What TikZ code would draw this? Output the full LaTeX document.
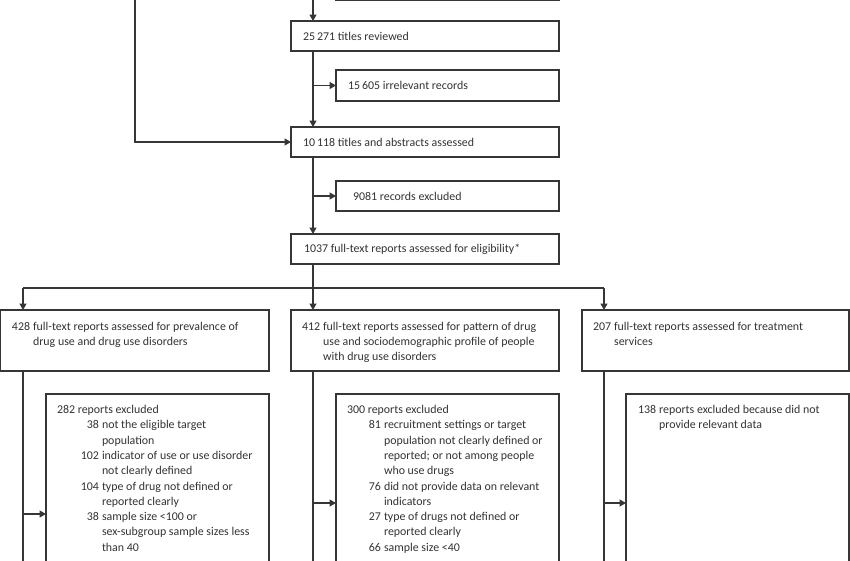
\documentclass[tikz,border=0pt]{standalone}
\usepackage{fontspec}
\setmainfont{Carlito}
\usetikzlibrary{arrows.meta}
\definecolor{ln}{HTML}{363636}
\definecolor{tx}{HTML}{333333}
\newcommand{\nb}[2]{\makebox[#1][r]{#2}\hspace{3pt}}
\tikzset{
  box/.style={draw=ln, line width=1.2pt, inner sep=0pt, outer sep=0pt, anchor=north west},
  txt/.style={text=tx, inner sep=0pt, outer sep=0pt, font=\fontsize{11.9}{15.3}\selectfont},
  conn/.style={draw=ln, line width=1.3pt},
  arr/.style={conn, -{Triangle[length=6.5pt,width=7pt]}},
}
\begin{document}
\begin{tikzpicture}[x=1pt, y=-1pt]
\useasboundingbox (0,0) rectangle (850,560);
\clip (0,0) rectangle (850,560);
\fill[white] (0,0) rectangle (850,560);

% partly visible box above the picture
\draw[ln, line width=1.2pt] (336,-40) rectangle (559,0.3);

% boxes of the main chain
\node[box, minimum width=268pt, minimum height=30pt] (b) at (291,21) {};
\node[box, minimum width=223pt, minimum height=31pt] (c) at (336,70) {};
\node[box, minimum width=268pt, minimum height=30pt] (d) at (291,127) {};
\node[box, minimum width=223pt, minimum height=30pt] (e) at (336,181) {};
\node[box, minimum width=268pt, minimum height=30pt] (f) at (291,234) {};

\node[txt, anchor=west] (bt) at ([xshift=12pt]b.west) {25\,271 titles reviewed};
\node[txt, anchor=west] (ct) at ([xshift=12pt]c.west) {15\,605 irrelevant records};
\node[txt, anchor=west] (dt) at ([xshift=12pt]d.west) {10\,118 titles and abstracts assessed};
\node[txt, anchor=west] (et) at ([xshift=17pt]e.west) {9081 records excluded};
\node[txt, anchor=west] (ft) at ([xshift=13pt]f.west) {1037 full-text reports assessed for eligibility*};

% second level boxes
\node[box, minimum width=269pt, minimum height=61pt] (g1) at (0,310) {};
\node[box, minimum width=268pt, minimum height=61pt] (g2) at (291,310) {};
\node[box, minimum width=267pt, minimum height=61pt] (g3) at (582,310) {};

\node[txt, anchor=base west] (g1t) at ([shift={(12pt,-20pt)}]g1.north west)
  {\begin{tabular}[t]{@{}l@{\hspace{3pt}}l@{}}428 & full-text reports assessed for prevalence of\\ & drug use and drug use disorders\end{tabular}};
\node[txt, anchor=base west] (g2t) at ([shift={(11pt,-20pt)}]g2.north west)
  {\begin{tabular}[t]{@{}l@{\hspace{3pt}}l@{}}412 & full-text reports assessed for pattern of drug\\ & use and sociodemographic profile of people\\ & with drug use disorders\end{tabular}};
\node[txt, anchor=base west] (g3t) at ([shift={(11pt,-20pt)}]g3.north west)
  {\begin{tabular}[t]{@{}l@{\hspace{3pt}}l@{}}207 & full-text reports assessed for treatment\\ & services\end{tabular}};

% exclusion boxes (run past the lower edge)
\node[box, minimum width=223pt, minimum height=220pt] (h1) at (46,394) {};
\node[box, minimum width=223pt, minimum height=220pt] (h2) at (336,394) {};
\node[box, minimum width=223pt, minimum height=220pt] (h3) at (626,394) {};

\node[txt, anchor=base west] (h1t) at ([shift={(11pt,-19.5pt)}]h1.north west)
  {\begin{tabular}[t]{@{}l@{}}
   282 reports excluded\\
   \nb{42pt}{38}not the eligible target\\
   \hspace*{45pt}population\\
   \nb{42pt}{102}indicator of use or use disorder\\
   \hspace*{45pt}not clearly defined\\
   \nb{42pt}{104}type of drug not defined or\\
   \hspace*{45pt}reported clearly\\
   \nb{42pt}{38}sample size <100 or\\
   \hspace*{45pt}sex-subgroup sample sizes less\\
   \hspace*{45pt}than 40
  \end{tabular}};
\node[txt, anchor=base west] (h2t) at ([shift={(11pt,-19.5pt)}]h2.north west)
  {\begin{tabular}[t]{@{}l@{}}
   300 reports excluded\\
   \nb{34pt}{81}recruitment settings or target\\
   \hspace*{37pt}population not clearly defined or\\
   \hspace*{37pt}reported; or not among people\\
   \hspace*{37pt}who use drugs\\
   \nb{34pt}{76}did not provide data on relevant\\
   \hspace*{37pt}indicators\\
   \nb{34pt}{27}type of drugs not defined or\\
   \hspace*{37pt}reported clearly\\
   \nb{34pt}{66}sample size <40
  \end{tabular}};
\node[txt, anchor=base west] (h3t) at ([shift={(12pt,-19.5pt)}]h3.north west)
  {\begin{tabular}[t]{@{}l@{\hspace{3pt}}l@{}}138 & reports excluded because did not\\ & provide relevant data\end{tabular}};

% connectors
\coordinate (top) at (313,-5);
\coordinate (far) at (135,-5);
\coordinate (sl) at (23,288);
\coordinate (sr) at (604,288);
\coordinate (a1) at (23,514);
\coordinate (a2) at (313,503);
\coordinate (a3) at (604,503);
\coordinate (e1) at (23,600);
\coordinate (e2) at (313,600);
\coordinate (e3) at (604,600);

\draw[arr] (top) -- (top |- b.north);
\draw[arr] (top |- b.south) -- (top |- d.north);
\draw[arr] (top |- c.west) -- (c.west);
\draw[arr] (top |- d.south) -- (top |- f.north);
\draw[arr] (top |- e.west) -- (e.west);
\draw[arr] (top |- f.south) -- (top |- g2.north);
\draw[arr] (far) -- (far |- d.west) -- (d.west);

\draw[conn] (sl) -- (sr);
\draw[arr] (sl) -- (sl |- g1.north);
\draw[arr] (sr) -- (sr |- g3.north);

\draw[conn] (sl |- g1.south) -- (e1);
\draw[conn] (top |- g2.south) -- (e2);
\draw[conn] (sr |- g3.south) -- (e3);
\draw[arr] (a1) -- (a1 -| h1.west);
\draw[arr] (a2) -- (a2 -| h2.west);
\draw[arr] (a3) -- (a3 -| h3.west);
\end{tikzpicture}
\end{document}
